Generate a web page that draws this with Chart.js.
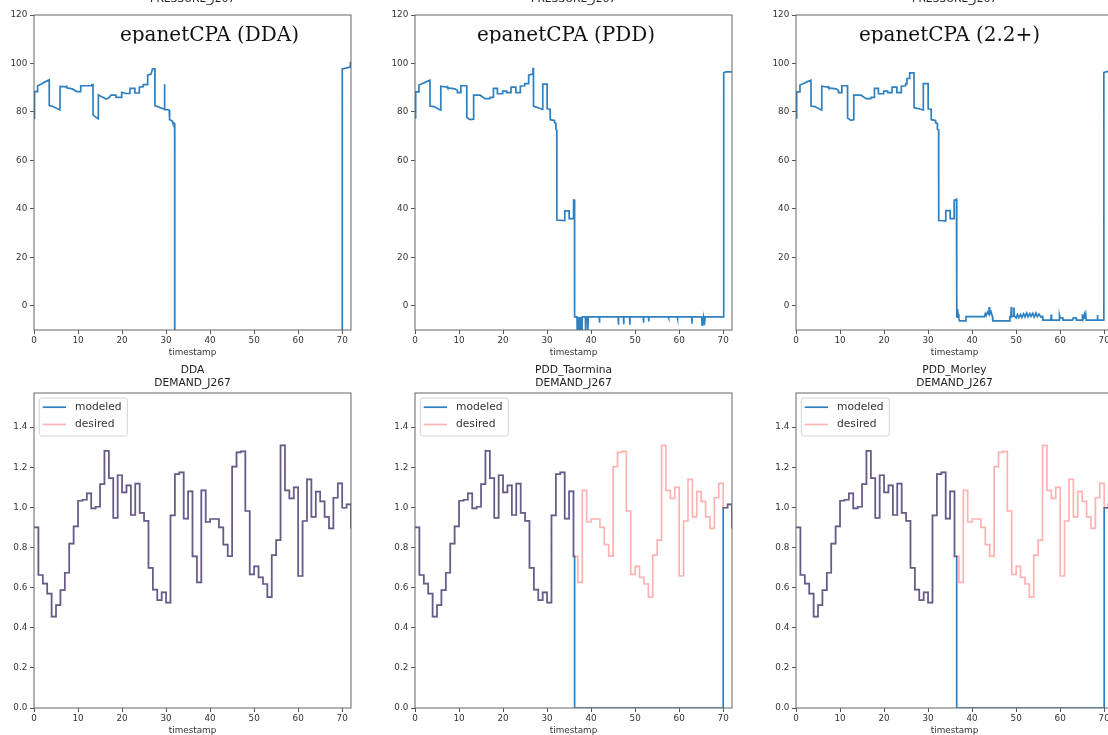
<!DOCTYPE html>
<html>
<head>
<meta charset="utf-8">
<script src="https://cdn.jsdelivr.net/npm/chart.js@4.4.1/dist/chart.umd.min.js"></script>
<style>
  html, body { margin: 0; padding: 0; background: #fff; overflow: hidden; }
  #page { position: relative; width: 1108px; height: 735px; overflow: hidden; }
  canvas { position: absolute; }
</style>
</head>
<body>
<div id="page">
  <canvas id="press0" width="360" height="375" style="left:0px;top:-10px"></canvas>
  <canvas id="press1" width="360" height="375" style="left:381px;top:-10px"></canvas>
  <canvas id="press2" width="360" height="375" style="left:762px;top:-10px"></canvas>
  <canvas id="dem0" width="360" height="380" style="left:0px;top:360px"></canvas>
  <canvas id="dem1" width="360" height="380" style="left:381px;top:360px"></canvas>
  <canvas id="dem2" width="360" height="380" style="left:762px;top:360px"></canvas>
</div>
<script>
"use strict";

// hourly demand pattern of junction J267 (value held for the hour)
const HOURS = [0, 1, 2, 3, 4, 5, 6, 7, 8, 9, 10, 11, 12, 13, 14, 15, 16, 17, 18, 19,
               20, 21, 22, 23, 24, 25, 26, 27, 28, 29, 30, 31, 32, 33, 34, 35, 36, 37, 38, 39,
               40, 41, 42, 43, 44, 45, 46, 47, 48, 49, 50, 51, 52, 53, 54, 55, 56, 57, 58, 59,
               60, 61, 62, 63, 64, 65, 66, 67, 68, 69, 70, 71, 72];
const DESIRED = [0.90, 0.663, 0.62, 0.57, 0.455, 0.513, 0.588, 0.674, 0.819, 0.905,
                 1.033, 1.038, 1.07, 0.995, 1.003, 1.116, 1.282, 1.146, 0.948, 1.16,
                 1.075, 1.11, 0.962, 1.118, 0.973, 0.933, 0.698, 0.59, 0.538, 0.576,
                 0.525, 0.96, 1.166, 1.174, 0.944, 1.08, 0.756, 0.626, 1.085, 0.927,
                 0.942, 0.942, 0.90, 0.814, 0.757, 1.203, 1.274, 1.279, 0.982, 0.666,
                 0.706, 0.651, 0.618, 0.553, 0.762, 0.837, 1.309, 1.085, 1.045, 1.10,
                 0.658, 0.932, 1.14, 0.953, 1.078, 1.03, 0.953, 0.895, 1.048, 1.12,
                 0.998, 1.015, 0.895];
// [start, end] of the hours where the modeled demand is zero
const OUTAGES = [null, [36.25, 70], [36.5, 70]];

// pressure at J267, [timestamp, pressure]
const PRESSURE_DDA = [
  [0, 77.4], [0.12, 88.4], [0.8, 88.4], [0.82, 90.8], [1.5, 91.3], [2.3, 92.2], [3.45, 93.2],
  [3.47, 82.6], [4.2, 82.3], [5.9, 80.8], [5.92, 90.5], [7.3, 90.3], [7.4, 90.9], [7.5, 89.9],
  [8.7, 89.5], [9.7, 88.4], [10.6, 88.4], [10.62, 90.8], [13.1, 90.8], [13.15, 91.3], [13.4, 91.3],
  [13.42, 78.7], [14.6, 77.1], [14.62, 87], [15.5, 86.2], [16.4, 85.3], [17, 85.8], [17.5, 86.9],
  [18.6, 86.9], [18.62, 86], [19.9, 86], [19.92, 88.1], [20.9, 87.6], [21.8, 87.6], [21.82, 89.7],
  [22.9, 89.7], [22.92, 87.8], [23.9, 87.8], [23.92, 90.2], [24.8, 90.4], [24.82, 91.3], [25.8, 91.3],
  [25.82, 95.2], [26.6, 95.6], [26.9, 97.8], [27.45, 97.8], [27.47, 82.6], [29.6, 81.1], [29.65, 91.4],
  [29.7, 81], [30.7, 80.8], [30.8, 76.8], [31.4, 76.3], [31.5, 75.6], [31.95, 75.2], [31.97, -150],
  [70, -150], [70.02, 97.7], [71.8, 98.5], [71.85, 100.4], [72, 100.4]
];
const PRESSURE_PDD = [
  [0, 77.5], [0.15, 88.3], [0.85, 88.3], [0.9, 91.1], [1.6, 91.6], [2.5, 92.4], [3.4, 93.1],
  [3.42, 82.4], [4.3, 82.2], [5.84, 80.7], [5.86, 90.6], [7.3, 90.2], [7.35, 90.8], [7.45, 89.9],
  [9.1, 89.5], [9.6, 88.9], [9.65, 88], [10.4, 88], [10.42, 90.8], [11.75, 90.8], [11.77, 77.7],
  [12.5, 76.8], [13.3, 77], [13.32, 86.9], [14.8, 86.9], [15.9, 85.5], [17, 85.5], [17.05, 86],
  [17.8, 86], [17.82, 89.7], [18.7, 89.7], [18.72, 87.5], [19.9, 87.5], [19.92, 88.6], [20.8, 88.6],
  [20.82, 88], [21.8, 88], [21.82, 90.2], [22.9, 90.2], [22.92, 88], [23.9, 88], [23.92, 90.6],
  [24.9, 90.8], [24.92, 91.7], [25.8, 91.7], [25.82, 95.2], [26.6, 95.6], [26.8, 97.9], [26.9, 97.9],
  [26.92, 82.4], [29, 81], [29.02, 91.5], [30, 91.5], [30.02, 81.3], [30.7, 81.1], [30.72, 76.8],
  [31.7, 76.5], [31.72, 75.5], [32, 75.3], [32.02, 72.8], [32.2, 72.5], [32.22, 35.4], [34, 35.1],
  [34.02, 39.2], [35, 39.2], [35.02, 36], [36, 36], [36.02, 43.6], [36.23, 43.6], [36.25, -4.6],
  [36.8, -4.6], [36.82, -15], [36.9, -4.6], [37.05, -15], [37.15, -4.6], [37.3, -15], [37.4, -4.6],
  [37.6, -15], [37.7, -4.6], [37.9, -15], [38, -4.6], [38.7, -4.6], [38.75, -11], [38.85, -4.6],
  [39.2, -4.6], [39.25, -11], [39.35, -4.6], [41.85, -4.6], [41.9, -7], [41.95, -4.6],
  [46.15, -4.6], [46.2, -7.8], [46.25, -4.6], [47.35, -4.6], [47.4, -7.6], [47.45, -4.6],
  [48.75, -4.6], [48.8, -7.8], [48.85, -4.6], [51.85, -4.6], [51.9, -7], [51.95, -4.6],
  [53.05, -4.6], [53.1, -6.5], [53.15, -4.6], [57.55, -4.6], [57.6, -5], [57.65, -4.6],
  [59.55, -4.6], [59.6, -5.2], [59.65, -4.6], [62.85, -4.6], [62.9, -7.4], [62.95, -4.6],
  [65.15, -4.6], [65.2, -8], [65.3, -4.8], [65.5, -7.5], [65.6, -5], [65.8, -6.5], [65.9, -4.6],
  [70.1, -4.6], [70.12, 96.1], [70.5, 96.5], [72, 96.5]
];
const PRESSURE_22 = [
  [0, 77.5], [0.15, 88.3], [0.85, 88.3], [0.9, 91.1], [1.6, 91.6], [2.5, 92.4], [3.4, 93.1],
  [3.42, 82.4], [4.3, 82.2], [5.84, 80.7], [5.86, 90.6], [7.3, 90.2], [7.35, 90.8], [7.45, 89.9],
  [9.1, 89.5], [9.6, 88.9], [9.65, 88], [10.4, 88], [10.42, 90.8], [11.7, 90.8], [11.72, 77.5],
  [12.5, 76.5], [13.1, 76.8], [13.12, 86.9], [14.8, 86.9], [15.9, 85.5], [17, 85.5], [17.05, 86],
  [17.8, 86], [17.82, 89.7], [18.7, 89.7], [18.72, 87.5], [19.9, 87.5], [19.92, 88.6], [20.8, 88.6],
  [20.82, 88], [21.8, 88], [21.82, 90.2], [22.9, 90.2], [22.92, 88], [23.9, 88], [23.92, 90.6],
  [24.9, 90.8], [24.92, 91.7], [25.2, 91.7], [25.22, 93.8], [25.8, 93.8], [25.82, 96.1], [26.8, 96.1],
  [26.82, 81.8], [28.9, 80.8], [28.92, 91.7], [30, 91.7], [30.02, 81.3], [30.7, 81.1], [30.72, 76.8],
  [31.7, 76.5], [31.72, 75.5], [32.1, 75.3], [32.12, 72.8], [32.4, 72.5], [32.42, 35.2], [34, 35],
  [34.02, 39.3], [35, 39.3], [35.02, 36], [35.9, 36], [35.92, 43.5], [36.45, 43.9], [36.47, -1.5],
  [36.55, -4.8], [36.62, -1.2], [36.7, -5], [36.85, -3.6], [37, -5.2], [37.1, -6.2], [38.6, -6.2],
  [38.62, -4.5], [42.8, -4.5], [43, -3.3], [43.2, -4.1], [43.5, -2.6], [43.8, -3.4], [43.9, -0.5],
  [44, -3.5], [44.3, -2.5], [44.6, -4.4], [44.7, -6.2], [48.5, -6.2], [48.6, -4.5], [48.8, -4.5],
  [48.9, -0.5], [49, -4.5], [49.4, -4.2], [49.5, -0.7], [49.6, -4.3], [50, -5], [50.3, -3.6],
  [50.6, -4.9], [51, -3.6], [51.3, -4.8], [51.7, -3.3], [52, -4.6], [52.4, -3], [52.7, -4.5],
  [53.1, -3.2], [53.4, -4.4], [53.8, -3.1], [54.1, -4.6], [54.5, -3], [54.8, -4.5], [55.2, -3.4],
  [55.6, -4.6], [56, -4.4], [56.05, -5.9], [57.9, -5.9], [57.95, -3.6], [58.05, -5.9], [59.8, -5.9],
  [59.85, -3.9], [60, -5], [60.6, -5], [60.65, -5.9], [62.8, -5.9], [63, -5], [63.6, -5], [63.7, -5.9],
  [65, -5.9], [65.05, -3.5], [65.2, -5.4], [65.5, -3.6], [65.6, -5.4], [65.8, -3.6], [65.9, -5.9],
  [68.4, -5.9], [68.45, -3.8], [68.55, -5.9], [69.9, -5.9], [69.92, 96.2], [70.5, 96.6], [72, 96.6]
];
const PRESSURES = [PRESSURE_DDA, PRESSURE_PDD, PRESSURE_22];

const X_TICKS = [0, 10, 20, 30, 40, 50, 60, 70];
const PRESSURE_TICKS = [0, 20, 40, 60, 80, 100, 120];
const DEMAND_TICKS = [0, 0.2, 0.4, 0.6, 0.8, 1.0, 1.2, 1.4];

const PRESSURE_TITLE = "PRESSURE_J267";
const CPA_LABELS = ["epanetCPA (DDA)", "epanetCPA (PDD)", "epanetCPA (2.2+)"];
const CPA_LABEL_X = [209.5, 185, 187.5];
const DEMAND_TITLES = [["DDA", "DEMAND_J267"], ["PDD_Taormina", "DEMAND_J267"], ["PDD_Morley", "DEMAND_J267"]];

const FONT = "'DejaVu Sans', sans-serif";
const BLUE = "#2f80c0";
const PINK = "rgba(255, 0, 0, 0.3)";
const TEXT = "#333";
const AXIS = "#555";

const framePlugin = {
  id: "frame",
  afterDatasetsDraw(chart) {
    const a = chart.chartArea;
    const ctx = chart.ctx;
    ctx.save();
    ctx.strokeStyle = "#666";
    ctx.lineWidth = 1;
    ctx.strokeRect(a.left, a.top, a.right - a.left, a.bottom - a.top);
    ctx.restore();
  }
};

const boxLegendPlugin = {
  id: "boxLegend",
  afterDraw(chart, args, opts) {
    if (!opts.show) {
      return;
    }
    const a = chart.chartArea;
    const ctx = chart.ctx;
    const x = a.left + 5.3, y = a.top + 5;
    ctx.save();
    ctx.fillStyle = "rgba(255,255,255,0.8)";
    ctx.strokeStyle = "#d4d4d4";
    ctx.lineWidth = 1;
    ctx.beginPath();
    ctx.roundRect(x, y, 88, 38, 2.5);
    ctx.fill();
    ctx.stroke();
    ctx.font = "10.7px " + FONT;
    ctx.textBaseline = "middle";
    chart.data.datasets.forEach(function(ds, i) {
      const ly = a.top + 14.2 + i * 17.3;
      ctx.strokeStyle = ds.borderColor;
      ctx.lineWidth = ds.borderWidth;
      ctx.beginPath();
      ctx.moveTo(a.left + 8.7, ly);
      ctx.lineTo(a.left + 32, ly);
      ctx.stroke();
      ctx.fillStyle = TEXT;
      ctx.fillText(ds.label, a.left + 41, ly);
    });
    ctx.restore();
  }
};

const cpaLabelPlugin = {
  id: "cpaLabel",
  afterDraw(chart, args, opts) {
    if (!opts.text) {
      return;
    }
    const ctx = chart.ctx;
    ctx.save();
    ctx.beginPath();
    ctx.rect(0, 0, chart.width, opts.clipY);
    ctx.clip();
    ctx.font = "20px 'DejaVu Serif', serif";
    ctx.fillStyle = "#111";
    ctx.textAlign = "center";
    ctx.textBaseline = "alphabetic";
    ctx.fillText(opts.text, opts.x, opts.y);
    ctx.restore();
  }
};

function xScale(height, titleBottom) {
  return {
    type: "linear",
    min: 0,
    max: 72,
    afterBuildTicks: function(s) { s.ticks = X_TICKS.map(v => ({value: v})); },
    afterFit: function(s) { s.height = height; },
    grid: {drawOnChartArea: false, drawTicks: true, tickLength: 4, color: AXIS},
    border: {display: false},
    ticks: {font: {family: FONT, size: 8.8}, color: TEXT, padding: 1.6, maxRotation: 0, autoSkip: false},
    title: {display: true, text: "timestamp", font: {family: FONT, size: 8.8}, color: TEXT,
            padding: {top: 0, bottom: titleBottom}}
  };
}

function yScale(min, max, ticks, fmt) {
  return {
    type: "linear",
    min: min,
    max: max,
    afterBuildTicks: function(s) { s.ticks = ticks.map(v => ({value: v})); },
    afterFit: function(s) { s.width = 34; },
    grid: {drawOnChartArea: false, drawTicks: true, tickLength: 4, color: AXIS},
    border: {display: false},
    ticks: {font: {family: FONT, size: 8.8}, color: TEXT, padding: 2.7, autoSkip: false, callback: fmt}
  };
}

function modeledSeries(outage) {
  const pts = [];
  for (let i = 0; i < HOURS.length; i++) {
    const t = HOURS[i];
    if (outage && t > outage[0] && t < outage[1]) {
      continue;
    }
    pts.push({x: t, y: DESIRED[i]});
    if (outage && t < outage[0] && HOURS[i + 1] > outage[0]) {
      pts.push({x: outage[0], y: 0});
    }
  }
  return pts;
}

function makePressure(idx) {
  const ctx = document.getElementById("press" + idx).getContext("2d");
  new Chart(ctx, {
    type: "line",
    data: {
      datasets: [{
        label: "pressure",
        data: PRESSURES[idx].map(p => ({x: p[0], y: p[1]})),
        borderColor: BLUE,
        borderWidth: 1.7,
        pointRadius: 0,
        tension: 0,
        fill: false
      }]
    },
    options: {
      responsive: false,
      animation: false,
      events: [],
      devicePixelRatio: 1,
      layout: {padding: {left: 0, right: 9, top: 0, bottom: 0}},
      scales: {
        x: xScale(35, 6.7),
        y: yScale(-10, 120, PRESSURE_TICKS, v => String(v))
      },
      plugins: {
        legend: {display: false},
        tooltip: {enabled: false},
        title: {
          display: true, text: PRESSURE_TITLE, fullSize: false, color: "#222",
          font: {family: FONT, size: 10.7, weight: "normal", lineHeight: 1.2},
          padding: {top: 2.4, bottom: 9.76}
        },
        cpaLabel: {text: CPA_LABELS[idx], x: CPA_LABEL_X[idx], y: 51, clipY: 53.5}
      }
    },
    plugins: [framePlugin, cpaLabelPlugin]
  });
}

function makeDemand(idx) {
  const ctx = document.getElementById("dem" + idx).getContext("2d");
  new Chart(ctx, {
    type: "line",
    data: {
      datasets: [{
        label: "modeled",
        data: modeledSeries(OUTAGES[idx]),
        borderColor: BLUE,
        borderWidth: 1.7,
        pointRadius: 0,
        stepped: true,
        fill: false,
        order: 1
      }, {
        label: "desired",
        data: HOURS.map((t, i) => ({x: t, y: DESIRED[i]})),
        borderColor: PINK,
        borderWidth: 1.7,
        pointRadius: 0,
        stepped: true,
        fill: false,
        order: 0
      }]
    },
    options: {
      responsive: false,
      animation: false,
      events: [],
      devicePixelRatio: 1,
      layout: {padding: {left: 0, right: 9, top: 0, bottom: 0}},
      scales: {
        x: xScale(32, 4.2),
        y: yScale(0, 1.57, DEMAND_TICKS, v => v.toFixed(1))
      },
      plugins: {
        legend: {display: false},
        tooltip: {enabled: false},
        title: {
          display: true, text: DEMAND_TITLES[idx], fullSize: false, color: "#222",
          font: {family: FONT, size: 10.7, weight: "normal", lineHeight: 1.245},
          padding: {top: 3.34, bottom: 3.02}
        },
        boxLegend: {show: true}
      }
    },
    plugins: [framePlugin, boxLegendPlugin]
  });
}

for (let i = 0; i < 3; i++) {
  makePressure(i);
  makeDemand(i);
}
</script>
</body>
</html>
